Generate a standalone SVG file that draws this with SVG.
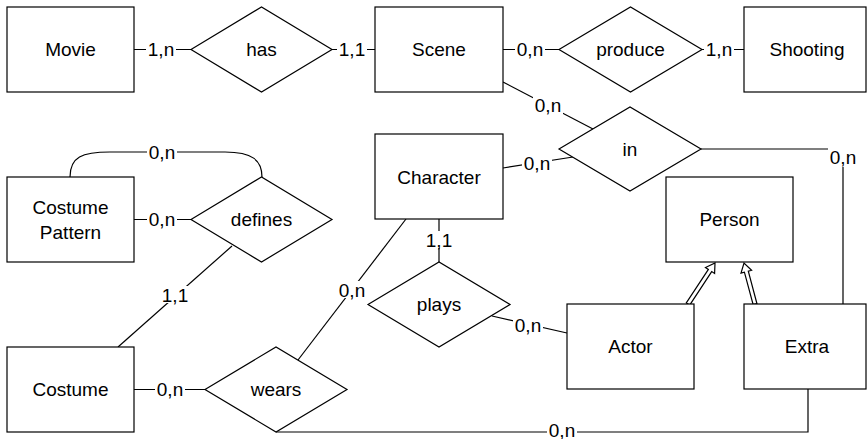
<svg xmlns="http://www.w3.org/2000/svg" width="867" height="439" viewBox="0 0 867 439">
<style>
.box{fill:#fff;stroke:#000;stroke-width:1.2}
.dia{fill:#fff;stroke:#000;stroke-width:1.2}
.t{font-family:"Liberation Sans",Arial,sans-serif;font-size:19px;fill:#000;text-anchor:middle;dominant-baseline:central}
.e{fill:none;stroke:#000;stroke-width:1.2}
.lb{fill:#fff}
.inh{fill:#fff;stroke:#000;stroke-width:1.2;stroke-linejoin:miter}
</style>
<rect width="867" height="439" fill="#fff"/>
<g id="connectors">
<line class="e" x1="134" y1="49.5" x2="191" y2="49.5"/>
<line class="e" x1="332" y1="49.5" x2="375" y2="49.5"/>
<line class="e" x1="503" y1="49.5" x2="559" y2="49.5"/>
<line class="e" x1="702" y1="49.5" x2="744" y2="49.5"/>
<line class="e" x1="503" y1="82" x2="593" y2="129"/>
<line class="e" x1="503" y1="168" x2="573" y2="157"/>
<polyline class="e" points="701,149 843,149 843,304"/>
<path class="e" d="M70,177 C70,157 82,152 110,152 L225,152 C252,152 262,160 262,177"/>
<line class="e" x1="134" y1="219.5" x2="191" y2="219.5"/>
<line class="e" x1="232" y1="246" x2="118" y2="347"/>
<line class="e" x1="439" y1="219" x2="439" y2="262"/>
<line class="e" x1="406" y1="219" x2="298" y2="360"/>
<line class="e" x1="492" y1="316" x2="567" y2="333"/>
<line class="e" x1="134" y1="389.5" x2="205" y2="389.5"/>
<polyline class="e" points="276,432 808,432 808,389"/>
<polygon class="inh" points="689.7,305.1 711.7,271.6 714.6,273.5 715,263 705.5,267.5 708.4,269.4 686.3,302.9"/>
<polygon class="inh" points="756.9,303.5 748.3,271.2 751.6,270.3 744,263 741,273.1 744.4,272.2 753.1,304.5"/>
<g id="labels">
<rect class="lb" x="146" y="41" width="30" height="17"/><text class="t" x="161" y="49.5">1,n</text>
<rect class="lb" x="337" y="41" width="30" height="17"/><text class="t" x="352" y="49.5">1,1</text>
<rect class="lb" x="515" y="41" width="30" height="17"/><text class="t" x="530" y="49.5">0,n</text>
<rect class="lb" x="704" y="41" width="30" height="17"/><text class="t" x="719" y="49.5">1,n</text>
<rect class="lb" x="533" y="97" width="30" height="17"/><text class="t" x="548" y="105">0,n</text>
<rect class="lb" x="522" y="154" width="30" height="17"/><text class="t" x="537" y="163">0,n</text>
<rect class="lb" x="828" y="148" width="30" height="19"/><text class="t" x="843" y="157">0,n</text>
<rect class="lb" x="147" y="144" width="30" height="17"/><text class="t" x="162" y="152">0,n</text>
<rect class="lb" x="147" y="211" width="30" height="17"/><text class="t" x="162" y="219.5">0,n</text>
<rect class="lb" x="160" y="286" width="30" height="17"/><text class="t" x="175" y="295">1,1</text>
<rect class="lb" x="424" y="231" width="30" height="17"/><text class="t" x="439" y="240">1,1</text>
<rect class="lb" x="337" y="281" width="30" height="17"/><text class="t" x="352" y="290">0,n</text>
<rect class="lb" x="513" y="316" width="30" height="17"/><text class="t" x="528" y="325">0,n</text>
<rect class="lb" x="155" y="381" width="30" height="17"/><text class="t" x="170" y="389.5">0,n</text>
<rect class="lb" x="547" y="424" width="30" height="15"/><text class="t" x="562" y="430">0,n</text>
</g>
</g>
<g id="movie"><rect class="box" x="7" y="7" width="127" height="85"/><text class="t" x="70.5" y="49.5">Movie</text></g>
<g id="has"><polygon class="dia" points="191,49.5 261.5,7 332,49.5 261.5,92"/><text class="t" x="261.5" y="49.5">has</text></g>
<g id="scene"><rect class="box" x="375" y="7" width="128" height="85"/><text class="t" x="439" y="49.5">Scene</text></g>
<g id="produce"><polygon class="dia" points="559,49.5 630.5,7 702,49.5 630.5,92"/><text class="t" x="630.5" y="49.5">produce</text></g>
<g id="shooting"><rect class="box" x="744" y="7" width="122" height="85"/><text class="t" x="807" y="49.5">Shooting</text></g>
<g id="costume-pattern"><rect class="box" x="7" y="177" width="127" height="85"/><text class="t" x="70.5" y="207">Costume</text><text class="t" x="70.5" y="232">Pattern</text></g>
<g id="defines"><polygon class="dia" points="191,219.5 261.5,177 332,219.5 261.5,262"/><text class="t" x="261.5" y="219.5">defines</text></g>
<g id="character"><rect class="box" x="375" y="134" width="128" height="85"/><text class="t" x="439" y="177">Character</text></g>
<g id="in"><polygon class="dia" points="559,149 630,107 701,149 630,191"/><text class="t" x="630" y="149">in</text></g>
<g id="person"><rect class="box" x="666" y="177" width="127" height="85"/><text class="t" x="729.5" y="219.5">Person</text></g>
<g id="plays"><polygon class="dia" points="368,304.5 439,262 510,304.5 439,347"/><text class="t" x="439" y="304.5">plays</text></g>
<g id="actor"><rect class="box" x="567" y="304" width="127" height="85"/><text class="t" x="630.5" y="346.5">Actor</text></g>
<g id="extra"><rect class="box" x="744" y="304" width="122" height="85"/><text class="t" x="807" y="346.5">Extra</text></g>
<g id="costume"><rect class="box" x="7" y="347" width="127" height="85"/><text class="t" x="70.5" y="389.5">Costume</text></g>
<g id="wears"><polygon class="dia" points="205,389.5 276,347 347,389.5 276,432"/><text class="t" x="276" y="389.5">wears</text></g>
</svg>
